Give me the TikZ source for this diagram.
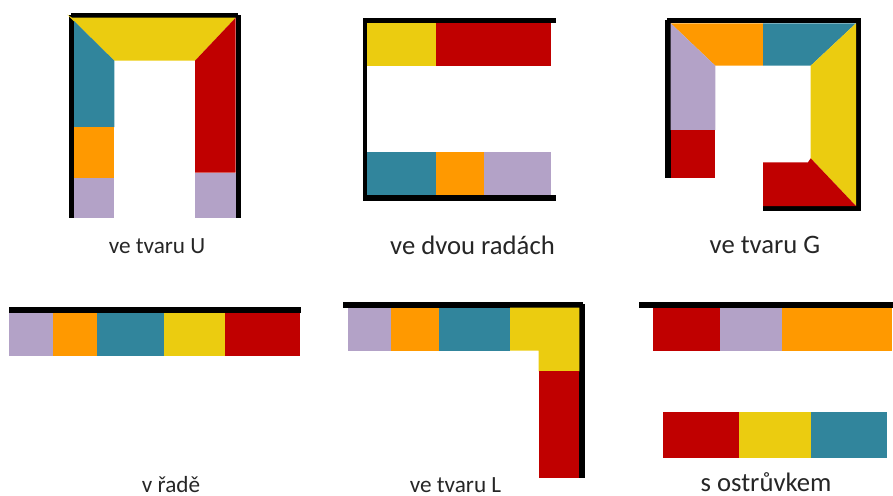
\documentclass[tikz,border=0pt]{standalone}
\usepackage{fontspec}
\setmainfont{Carlito}
\definecolor{cabred}{RGB}{192,0,0}
\definecolor{cabyellow}{RGB}{235,204,16}
\definecolor{cabteal}{RGB}{49,133,156}
\definecolor{caborange}{RGB}{255,153,0}
\definecolor{cablilac}{RGB}{179,162,199}
\tikzset{
 wall/.style={fill=black},
 red/.style={fill=cabred},
 yellow/.style={fill=cabyellow},
 teal/.style={fill=cabteal},
 lilac/.style={fill=cablilac},
 orange/.style={fill=caborange},
 small/.style={anchor=base, inner sep=0pt, text=black!85, font=\fontsize{17.4}{20}\selectfont},
 large/.style={anchor=base, inner sep=0pt, text=black!85, font=\fontsize{20}{23}\selectfont}
}
\begin{document}
\begin{tikzpicture}[x=.75pt,y=-.75pt]
\useasboundingbox (0,0) rectangle (893,496);

\fill[wall] (71,12.7) rectangle (238,17.7);
\fill[wall] (68.7,15) rectangle (74,218);
\fill[wall] (235.7,15) rectangle (241,218);
\fill[yellow] (67.3,14.7) -- (72,17.7) -- (235.7,17.7) -- (195,60.7) -- (114.3,60.7) -- cycle;
\fill[teal] (74,21) -- (114.3,60.7) -- (114.3,127) -- (74,127) -- cycle;
\fill[orange] (74,127) rectangle (114.3,177.7);
\fill[lilac] (74,177.7) rectangle (114.3,218);
\fill[red] (235.7,17.7) -- (195,60.7) -- (195,172.7) -- (235.7,172.7) -- cycle;
\fill[lilac] (195,172.7) rectangle (235.7,218);
\node[small] (ushape) at (157,253) {ve tvaru U};

\fill[wall] (362.7,17.7) rectangle (555.7,23.3);
\fill[wall] (362.7,17.7) rectangle (367.3,200.7);
\fill[wall] (362.7,195.3) rectangle (555.7,200.7);
\fill[yellow] (367.3,23.3) rectangle (436.3,65.7);
\fill[red] (436.3,23.3) rectangle (550.7,65.7);
\fill[teal] (367.3,152.3) rectangle (436.3,195.3);
\fill[orange] (436.3,152.3) rectangle (483.7,195.3);
\fill[lilac] (483.7,152.3) rectangle (550.7,195.3);
\node[large] (tworows) at (472.5,254) {ve dvou radách};

\fill[wall] (667.3,18) rectangle (860,23.3);
\fill[wall] (665.3,20) rectangle (670.7,178.3);
\fill[wall] (856,18) rectangle (860.7,210.7);
\fill[wall] (763.3,206) rectangle (860.7,210.7);
\fill[orange] (670.7,23.3) -- (763,23.3) -- (763,65.7) -- (715.3,65.7) -- cycle;
\fill[teal] (763,23.3) -- (856,23.3) -- (810.7,65.7) -- (763,65.7) -- cycle;
\fill[lilac] (670.7,23.3) -- (715.3,65.7) -- (715.3,130) -- (670.7,130) -- cycle;
\fill[red] (670.7,130) rectangle (715.3,178);
\fill[yellow] (856,23.3) -- (856,206) -- (810.7,158.3) -- (810.7,65.7) -- cycle;
\fill[red] (763,162.3) -- (808,162.3) -- (810.7,158.3) -- (856,206) -- (763,206) -- cycle;
\node[large] (gshape) at (765,253) {ve tvaru G};

\fill[wall] (9.3,307.3) rectangle (300.7,313.3);
\fill[lilac] (9.3,313.3) rectangle (53.3,355.7);
\fill[orange] (53.3,313.3) rectangle (97.3,355.7);
\fill[teal] (97.3,313.3) rectangle (163.7,355.7);
\fill[yellow] (163.7,313.3) rectangle (225.3,355.7);
\fill[red] (225.3,313.3) rectangle (300.3,355.7);
\node[small] (inline) at (171,492) {v řadě};

\fill[wall] (343.3,302.3) rectangle (582.7,307.7);
\fill[wall] (579.3,304) rectangle (584.7,478.3);
\fill[lilac] (347.7,307.7) rectangle (391,350.7);
\fill[orange] (391,307.7) rectangle (438.7,350.7);
\fill[teal] (438.7,307.7) rectangle (510,350.7);
\fill[yellow] (510,307.7) -- (579.3,307.7) -- (579.3,371.3) -- (538.7,371.3) -- (538.7,350.7) -- (510,350.7) -- cycle;
\fill[red] (538.7,371.3) rectangle (579.3,478.3);
\node[small] (lshape) at (455.5,492) {ve tvaru L};

\fill[wall] (639.3,302.3) rectangle (893,308);
\fill[red] (653,308) rectangle (720.3,350.7);
\fill[lilac] (720.3,308) rectangle (782,350.7);
\fill[orange] (782,308) rectangle (892,350.7);
\fill[red] (662.7,411.7) rectangle (739.3,457.7);
\fill[yellow] (739.3,411.7) rectangle (810.7,457.7);
\fill[teal] (810.7,411.7) rectangle (887.3,457.7);
\node[large] (island) at (766,491.5) {s ostrůvkem};

\end{tikzpicture}
\end{document}
